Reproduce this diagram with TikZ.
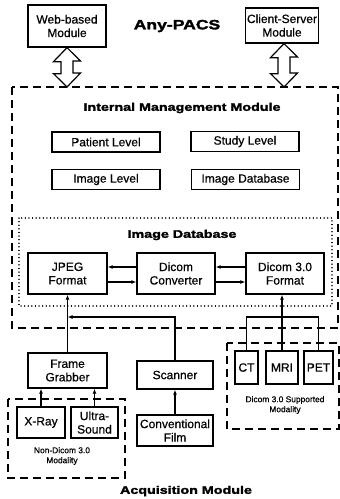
\documentclass[tikz,border=0pt]{standalone}
\usepackage{fontspec}
\setmainfont{Liberation Sans}[FakeBold=0.6]
\newfontfamily\heavyfont[FakeStretch=1.3,FakeBold=2.2]{Liberation Sans Bold}
\usetikzlibrary{arrows.meta,calc,positioning}
\tikzset{
  blk/.style={draw, line width=1.3pt, inner sep=1pt, align=center, font=\fontsize{12}{13.5}\selectfont},
  fmtbox/.style={blk, minimum width=79pt, minimum height=41pt},
  lvlbox/.style={blk, minimum width=108pt, minimum height=20pt},
  modal/.style={blk, minimum height=33pt},
  grpbox/.style={draw, line width=1.4pt, dash pattern=on 8pt off 5pt},
  dbbox/.style={draw, line width=1.3pt, dash pattern=on 0.1pt off 3.5pt, line cap=round},
  ttl/.style={font=\heavyfont\fontsize{11}{13}\selectfont},
  note/.style={align=center, font=\fontsize{8.4}{10}\selectfont},
  arr/.style={line width=1.2pt, -{Latex[length=5pt,width=4pt]}},
  lnk/.style={line width=1.2pt},
  hollow/.style={draw, fill=white, line width=1.2pt},
  every picture/.style={line join=miter}
}

\begin{document}
\begin{tikzpicture}[x=1pt, y=-1pt]
  \useasboundingbox (0,0) rectangle (340,499);
  \node[blk, minimum width=78pt, minimum height=42pt] (web) at (67,26) {Web-based\\Module};
  \node[blk, minimum width=73pt, minimum height=35pt] (cs) at (282,25.5) {Client-Server\\Module};
  \node[ttl, font=\heavyfont\fontsize{13.5}{15}\selectfont] (anypacs) at (177,26) {Any-PACS};

  \draw[grpbox] (12,87) rectangle (338,328);
  \coordinate (imm1) at (67,87);
  \coordinate (imm2) at (284,87);
  \draw[hollow] (web.south) -- ++(-13.5,14) -- ++(7.5,0) -- ++(0,12) -- ++(-7.5,0)
    -- (imm1) -- ++(13.5,-14) -- ++(-7.5,0) -- ++(0,-12) -- ++(7.5,0) -- cycle;
  \draw[hollow] (cs.south -| imm2) -- ++(-13.5,14) -- ++(7.5,0) -- ++(0,16) -- ++(-7.5,0)
    -- (imm2) -- ++(13.5,-14) -- ++(-7.5,0) -- ++(0,-16) -- ++(7.5,0) -- cycle;

  \node[ttl] (imm) at (182,108) {Internal Management Module};
  \node[lvlbox] (patient) at (106,142) {Patient Level};
  \node[lvlbox] (study) at (245,141.5) {Study Level};
  \node[lvlbox] (imglvl) at (106,179.5) {Image Level};
  \node[lvlbox] (imgdb) at (245.5,179.5) {Image Database};

  \draw[dbbox] (19,218) rectangle (332,306);
  \node[ttl] (dbtitle) at (182,235) {Image Database};
  \node[fmtbox] (jpeg) at (67.5,273.5) {JPEG\\Format};
  \node[fmtbox, minimum width=78pt] (conv) at (176,273.5) {Dicom\\Converter};
  \node[fmtbox, minimum width=78pt] (dicom) at (285,273.5) {Dicom 3.0\\Format};
  \draw[arr] ([yshift=6.5pt]conv.west) -- ([yshift=6.5pt]jpeg.east);
  \draw[arr] ([yshift=-8.5pt]jpeg.east) -- ([yshift=-8.5pt]conv.west);
  \draw[arr] ([yshift=6.5pt]dicom.west) -- ([yshift=6.5pt]conv.east);
  \draw[arr] ([yshift=-8.5pt]conv.east) -- ([yshift=-8.5pt]dicom.west);

  \node[blk, minimum width=79pt, minimum height=35pt] (frame) at (67.5,370.5) {Frame\\Grabber};
  \node[blk, minimum width=76pt, minimum height=28pt] (scanner) at (175,375) {Scanner};
  \node[blk, minimum width=76pt, minimum height=31pt] (film) at (175,430.5) {Conventional\\Film};

  \draw[grpbox] (8,399) rectangle (125,478);
  \node[blk, minimum width=48pt, minimum height=31pt] (xray) at (41,422.5) {X-Ray};
  \node[blk, minimum width=47pt, minimum height=31pt] (ultra) at (94.5,422.5) {Ultra-\\Sound};
  \node[note] (nondicom) at (62,456) {Non-Dicom 3.0\\Modality};

  \draw[grpbox] (227,343) rectangle (339,429);
  \node[modal, minimum width=23pt] (ct) at (246.5,367.5) {CT};
  \node[modal, minimum width=32pt] (mri) at (282,367.5) {MRI};
  \node[modal, minimum width=29pt] (pet) at (318.5,367.5) {PET};
  \node[note] (dicommod) at (285,405) {Dicom 3.0 Supported\\Modality};

  \coordinate (joinL) at (67.5,317);
  \coordinate (joinR) at (282,317);
  \draw[arr] (frame.north) -- (jpeg.south);
  \draw[arr] (scanner.north) |- (joinL);
  \draw[lnk] (ct.north) |- (joinR) -| (pet.north);
  \draw[arr] (mri.north) -- (mri.north |- dicom.south);
  \draw[arr] (xray.north) -- (xray.north |- frame.south);
  \draw[arr] (ultra.north) -- (ultra.north |- frame.south);
  \draw[arr] (film.north) -- (scanner.south);

  \node[ttl] (acq) at (186,491) {Acquisition Module};
\end{tikzpicture}
\end{document}
